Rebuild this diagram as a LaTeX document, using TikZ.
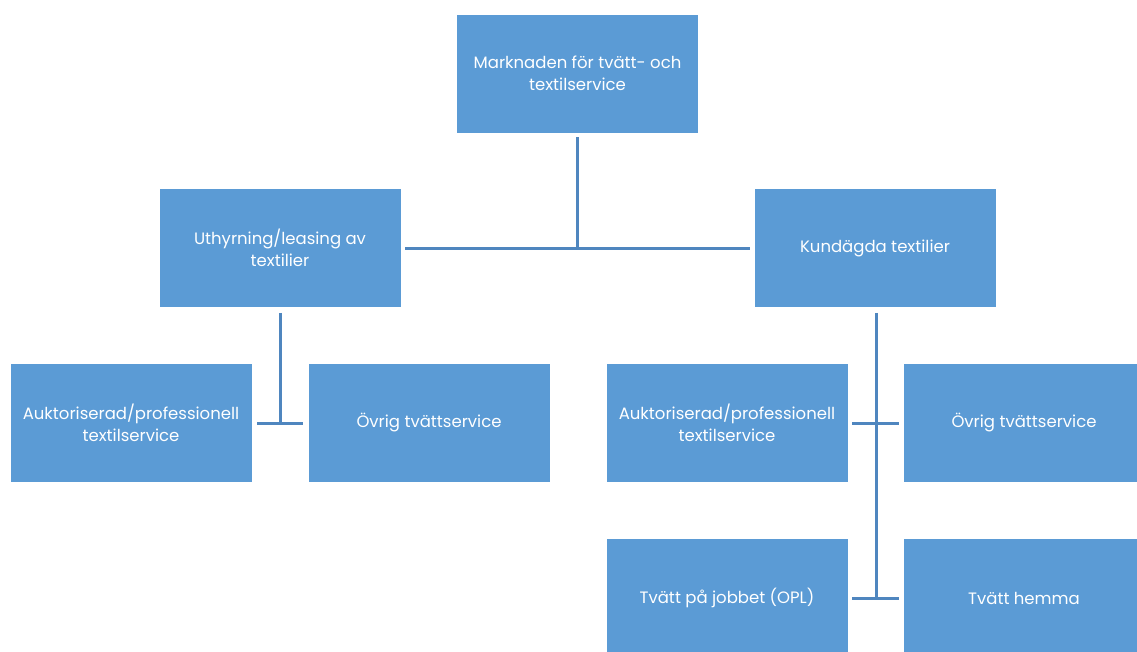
\documentclass[tikz,border=0pt]{standalone}
\usepackage{fontspec}
\setmainfont{Poppins}
\definecolor{boxblue}{HTML}{5B9BD5}
\definecolor{lineblue}{HTML}{4F86BF}
\begin{document}
\begin{tikzpicture}[x=1pt,y=-1pt,
  box/.style={fill=boxblue,draw=white,line width=0.8pt,minimum width=242pt,minimum height=119pt,
    text=white,align=center,font=\fontsize{16.5}{22}\selectfont,inner sep=2pt},
  conn/.style={draw=lineblue,line width=3pt}]
\useasboundingbox (0,0) rectangle (1137,651);
\clip (0,0) rectangle (1137,651);
\fill[white] (0,0) rectangle (1137,651);
\node[box] (top) at (577.5,73.5) {Marknaden för tvätt- och\\textilservice};
\node[box] (mL) at (280,248) {Uthyrning/leasing av\\textilier};
\node[box] (mR) at (875,248) {Kundägda textilier};
\node[box] (a1) at (131,423) {Auktoriserad/professionell\\textilservice};
\node[box] (a2) at (429,423) {Övrig tvättservice};
\node[box] (b1) at (727,423) {Auktoriserad/professionell\\textilservice};
\node[box] (b2) at (1024,423) {Övrig tvättservice};
\node[box] (c1) at (727,598) {Tvätt på jobbet (OPL)};
\node[box] (c2) at (1024,598) {Tvätt hemma};
% connectors
\draw[conn] ([xshift=4pt]mL.east) -- ([xshift=-4pt]mR.west);
\draw[conn] ([yshift=-4pt]top.south) -- (top.south |- mL.east);
\draw[conn] ([yshift=-5pt]mL.south) -- (mL.south |- a1.east);
\draw[conn] ([xshift=5pt]a1.east) -- ([xshift=-5pt]a2.west);
\draw[conn] ([xshift=1pt,yshift=-5pt]mR.south) coordinate (rv) -- (rv |- c1.east);
\draw[conn] ([xshift=4pt]b1.east) -- ([xshift=-4pt]b2.west);
\draw[conn] ([xshift=4pt]c1.east) -- ([xshift=-4pt]c2.west);
\end{tikzpicture}
\end{document}
